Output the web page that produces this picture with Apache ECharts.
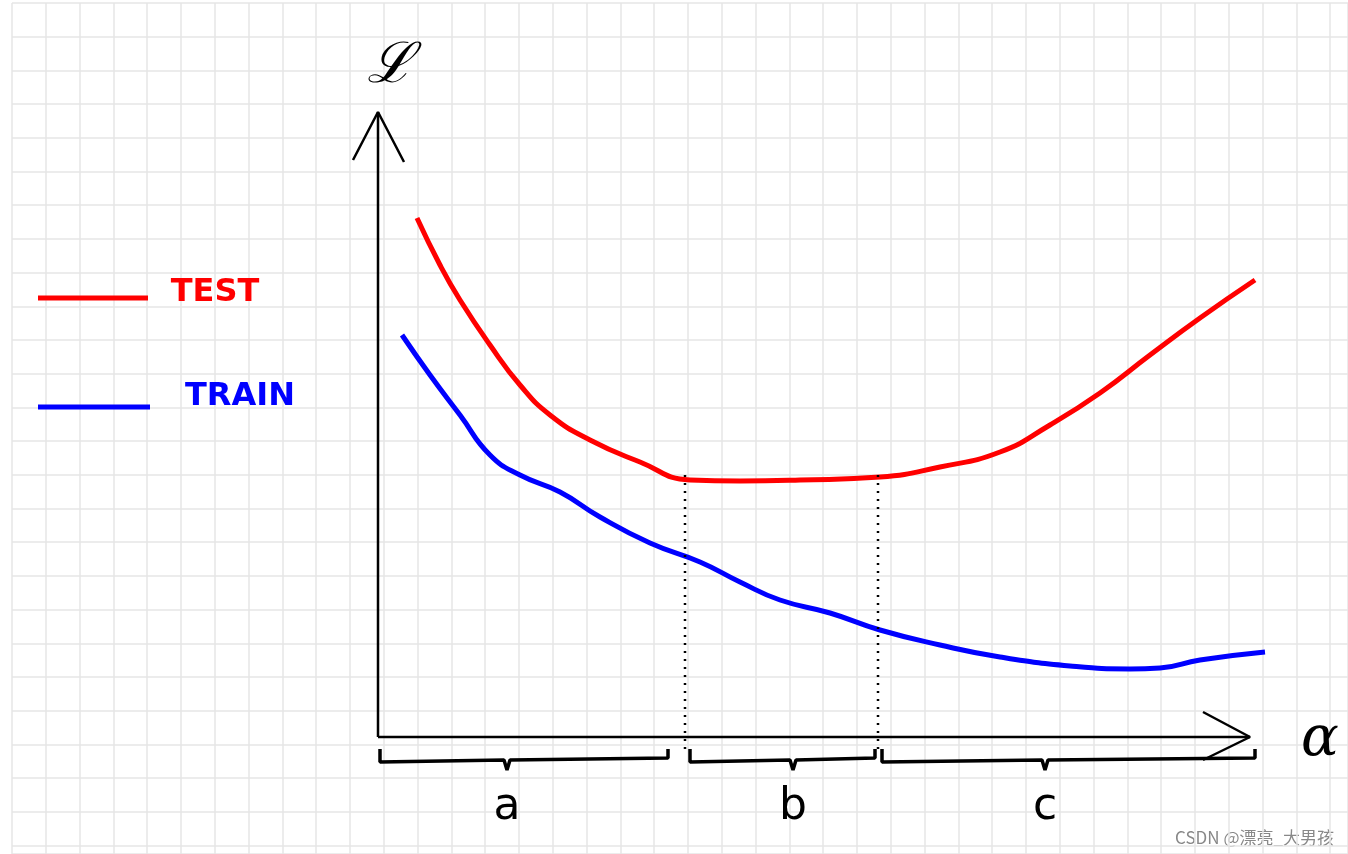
<!DOCTYPE html>
<html><head><meta charset="utf-8">
<script src="https://cdn.jsdelivr.net/npm/echarts@6/dist/echarts.min.js"></script>
<style>html,body{margin:0;padding:0;background:#fff}#c{width:1348px;height:854px}</style>
</head><body><div id="c"></div>
<script>
// x: pixels right of the axis origin, y: pixels above it
var testX = [37, 60, 80, 110, 140, 170, 210, 260, 310, 360, 420, 500, 560, 620, 670, 720, 770, 820, 875];
var testY = [519, 472, 437, 392, 352, 322, 297, 275, 257, 256, 257, 260, 270, 285, 312, 344, 382, 419, 457];
var trainX = [22, 50, 80, 110, 140, 180, 220, 270, 320, 360, 400, 450, 500, 560, 620, 690, 750, 780, 820, 885];
var trainY = [402, 362, 322, 282, 262, 245, 220, 194, 175, 155, 137, 124, 107, 92, 80, 71, 68, 69, 77, 85];
var splitX = [305, 498];
var braces = [[0, 127, 288], [310, 413, 495], [502, 665, 875]];
var braceLabels = ['a', 'b', 'c'];

function pairs(xs, ys) { return xs.map(function (x, i) { return [x, ys[i]]; }); }
var ink = '#000';
var series = [];
function seg(data, color, width, type) {
  series.push({ type: 'line', data: data, showSymbol: false, silent: true, smooth: false,
    lineStyle: { color: color, width: width || 2.5, type: type || 'solid' } });
}
// axes with open arrows
seg([[-2, 0], [870, 0]], ink, 2.5);
seg([[823, 25], [870, 0], [823, -23]], ink, 2.5);
seg([[-2, 0], [-2, 625]], ink, 2.5);
seg([[-27, 577], [-2, 625], [24, 575]], ink, 2.5);
// curves
series.push({ type: 'line', data: pairs(testX, testY), smooth: true, showSymbol: false,
  lineStyle: { color: '#ff0000', width: 5 } });
series.push({ type: 'line', data: pairs(trainX, trainY), smooth: true, showSymbol: false,
  lineStyle: { color: '#0000ff', width: 5 } });
// dotted split lines
splitX.forEach(function (x) { seg([[x, 262], [x, -12]], ink, 2.5, [2, 6]); });
// braces
braces.forEach(function (b) {
  seg([[b[0], -12], [b[0], -25], [b[1] - 3, -23], [b[1], -33], [b[1] + 3, -23], [b[2], -21], [b[2], -12]], ink, 3.5);
});
// legend
seg([[-342, 439], [-232, 439]], '#ff0000', 5);
seg([[-342, 330], [-230, 330]], '#0000ff', 5);
// texts
var lbl = { show: true, formatter: '{b}', position: 'inside', textBorderWidth: 0, opacity: 1 };
series.push({ type: 'scatter', symbolSize: 0, data: braceLabels.map(function (t, i) {
    return { value: [braces[i][1], -71], name: t }; }),
  label: Object.assign({ fontSize: 44, fontFamily: 'DejaVu Sans', color: ink }, lbl) });
series.push({ type: 'scatter', symbolSize: 0, data: [
    { value: [-165, 444], name: 'TEST', label: { color: '#ff0000' } },
    { value: [-140, 340], name: 'TRAIN', label: { color: '#0000ff' } }],
  label: Object.assign({ fontSize: 32, fontWeight: 'bold', fontFamily: 'DejaVu Sans' }, lbl) });
series.push({ type: 'scatter', symbolSize: 0, data: [
    { value: [10, 670], name: 'ℒ' }, { value: [940, -3], name: 'α' }],
  label: Object.assign({ fontSize: 56, fontFamily: 'DejaVu Serif', fontStyle: 'italic', color: ink }, lbl) });
// background grid paper
series.push({ type: 'line', xAxisIndex: 1, yAxisIndex: 1, data: [], silent: true });

var chart = echarts.init(document.getElementById('c'));
chart.setOption({
  animation: false,
  backgroundColor: '#fff',
  grid: [
    { left: 0, right: 0, top: 0, bottom: 0, z: 2 },
    { left: 12, right: 0, top: 3, bottom: 0, z: 0 }
  ],
  xAxis: [
    { type: 'value', min: -380, max: 968, show: false, gridIndex: 0 },
    { type: 'value', min: 0, max: 1336, interval: 33.8, gridIndex: 1, axisLine: { show: false },
      axisTick: { show: false }, axisLabel: { show: false }, splitLine: { lineStyle: { color: '#e6e6e6', width: 1.5 } } }
  ],
  yAxis: [
    { type: 'value', min: -117, max: 737, show: false, gridIndex: 0 },
    { type: 'value', inverse: true, min: 0, max: 851, interval: 33.7, gridIndex: 1, axisLine: { show: false },
      axisTick: { show: false }, axisLabel: { show: false }, splitLine: { lineStyle: { color: '#e6e6e6', width: 1.5 } } }
  ],
  graphic: [{ type: 'text', right: 14, bottom: 8, style: { text: 'CSDN @漂亮_大男孩', fill: '#888',
    font: '17px "Noto Sans CJK SC", sans-serif' } }],
  series: series
});
</script></body></html>
